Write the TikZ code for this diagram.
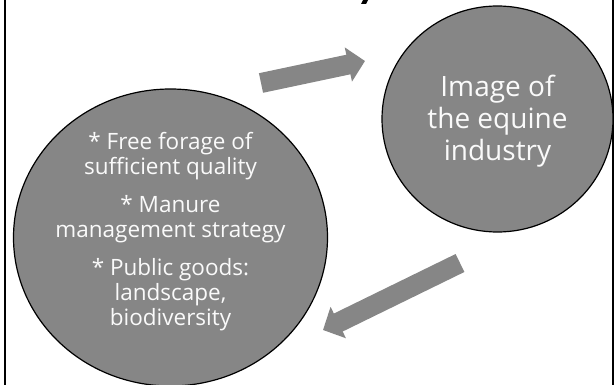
\documentclass[tikz,border=0pt]{standalone}
\usepackage{fontspec}
\setmainfont{Open Sans}
\usetikzlibrary{shapes.geometric,arrows.meta}

\definecolor{blobgray}{RGB}{134,134,134}
\definecolor{pastegray}{RGB}{250,250,250}

\tikzset{
    blob/.style={shape=ellipse,draw=black,line width=1.2pt,fill=blobgray,inner sep=0pt},
    blobtext/.style={text=pastegray,align=center,inner sep=0pt},
    fatarrow/.style={draw=blobgray,line width=20pt,
        -{Triangle[length=17pt,width=34pt]}}
}

\begin{document}
\begin{tikzpicture}[x=1pt,y=-1pt]
    \useasboundingbox (0,0) rectangle (614,385);

    % frame
    \draw[line width=2pt] (4.5,0) -- (4.5,385);
    \draw[line width=2pt] (612.5,0) -- (612.5,385);
    \fill (363,0) -- (368,0) -- (366,4) -- (361,4) -- cycle;

    % circles
    \node[blob,minimum width=314pt,minimum height=297pt] (goods) at (170.5,237.5) {};
    \node[blob,minimum width=231pt,minimum height=226pt] (image) at (497.5,119) {};

    % texts
    \node[blobtext,font=\fontsize{22.5}{25}\selectfont] (goodstext)
        at ([yshift=6pt]goods.center)
        {* Free forage of\\ sufficient quality\\[13pt]
         * Manure\\ management strategy\\[13pt]
         * Public goods:\\ landscape,\\ biodiversity};
    \node[blobtext,font=\fontsize{28}{32}\selectfont] (imagetext)
        at ([yshift=-2pt]image.center)
        {Image of\\ the equine\\ industry};

    % arrows
    \coordinate (t1) at (261,83);
    \coordinate (h1) at (365,61);
    \coordinate (t2) at (460,263);
    \coordinate (h2) at (323,330);
    \draw[fatarrow] (t1) -- (h1);
    \draw[fatarrow] (t2) -- (h2);
\end{tikzpicture}
\end{document}
